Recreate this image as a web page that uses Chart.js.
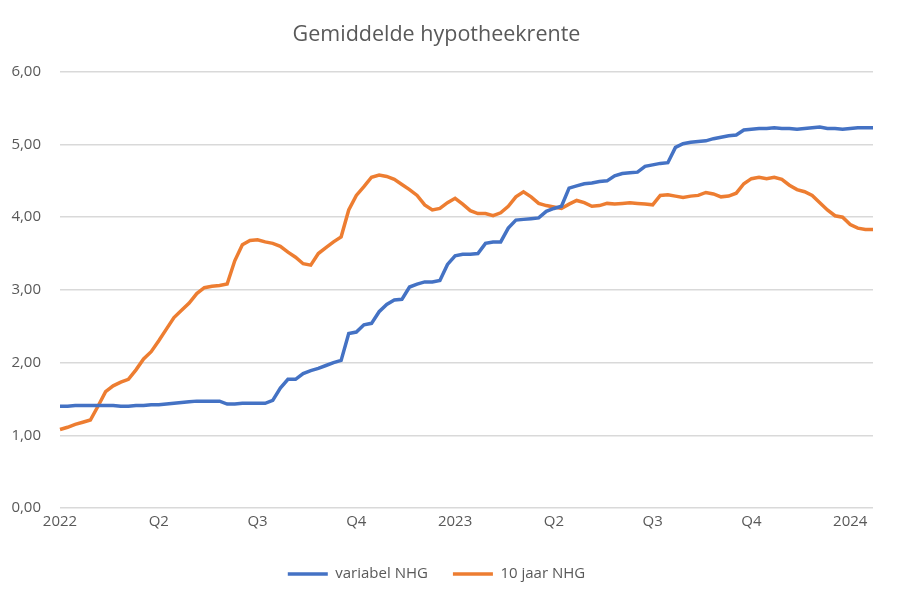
<!DOCTYPE html>
<html lang="en">
<head>
    <meta charset="UTF-8">
    <title>Gemiddelde hypotheekrente</title>
    <script src="https://cdn.jsdelivr.net/npm/chart.js"></script>
    <style>
        html, body {
            margin: 0;
            padding: 0;
            background: #fff;
        }
        .chart-box {
            width: 900px;
            height: 601px;
        }
    </style>
</head>
<body>
    <div class="chart-box">
        <canvas id="renteChart" width="900" height="601"></canvas>
    </div>
    <script>
        // Quarter tick labels (one every 13 weeks)
        const quarterLabels = ['2022', 'Q2', 'Q3', 'Q4', '2023', 'Q2', 'Q3', 'Q4', '2024'];
        const weeksPerQuarter = 13;

        // Weekly averages
        const variabelNHG = [
            1.40, 1.40, 1.41, 1.41, 1.41, 1.41, 1.41, 1.41, 1.40, 1.40,
            1.41, 1.41, 1.42, 1.42, 1.43, 1.44, 1.45, 1.46, 1.47, 1.47,
            1.47, 1.47, 1.43, 1.43, 1.44, 1.44, 1.44, 1.44, 1.48, 1.65,
            1.77, 1.77, 1.85, 1.89, 1.92, 1.96, 2.00, 2.03, 2.40, 2.42,
            2.52, 2.54, 2.70, 2.80, 2.86, 2.87, 3.04, 3.08, 3.11, 3.11,
            3.13, 3.35, 3.47, 3.49, 3.49, 3.50, 3.64, 3.66, 3.66, 3.85,
            3.96, 3.97, 3.98, 3.99, 4.08, 4.12, 4.15, 4.40, 4.43, 4.46,
            4.47, 4.49, 4.50, 4.57, 4.60, 4.61, 4.62, 4.70, 4.72, 4.74,
            4.75, 4.96, 5.01, 5.03, 5.04, 5.05, 5.08, 5.10, 5.12, 5.13,
            5.20, 5.21, 5.22, 5.22, 5.23, 5.22, 5.22, 5.21, 5.22, 5.23,
            5.24, 5.22, 5.22, 5.21, 5.22, 5.23, 5.23, 5.23
        ];
        const tienJaarNHG = [
            1.08, 1.11, 1.15, 1.18, 1.21, 1.40, 1.60, 1.68, 1.73, 1.77,
            1.90, 2.05, 2.15, 2.30, 2.46, 2.62, 2.72, 2.82, 2.95, 3.03,
            3.05, 3.06, 3.08, 3.40, 3.62, 3.68, 3.69, 3.66, 3.64, 3.60,
            3.52, 3.45, 3.36, 3.34, 3.50, 3.58, 3.66, 3.73, 4.10, 4.30,
            4.42, 4.55, 4.58, 4.56, 4.52, 4.45, 4.38, 4.30, 4.17, 4.10,
            4.12, 4.20, 4.26, 4.18, 4.09, 4.05, 4.05, 4.02, 4.06, 4.15,
            4.28, 4.35, 4.28, 4.19, 4.16, 4.14, 4.12, 4.18, 4.23, 4.20,
            4.15, 4.16, 4.19, 4.18, 4.19, 4.20, 4.19, 4.18, 4.17, 4.30,
            4.31, 4.29, 4.27, 4.29, 4.30, 4.34, 4.32, 4.28, 4.29, 4.33,
            4.46, 4.53, 4.55, 4.53, 4.55, 4.52, 4.44, 4.38, 4.35, 4.30,
            4.20, 4.10, 4.02, 4.00, 3.90, 3.85, 3.83, 3.83
        ];
        const weeks = variabelNHG.map((_, i) => i);

        const textColor = '#595959';
        const fontFamily = '"Open Sans", "Noto Sans", sans-serif';

        const ctx = document.getElementById('renteChart').getContext('2d');
        const renteChart = new Chart(ctx, {
            type: 'line',
            data: {
                labels: weeks,
                datasets: [
                    {
                        label: 'variabel NHG',
                        data: variabelNHG,
                        borderColor: '#4472C4',
                        backgroundColor: '#4472C4',
                        borderWidth: 3.5,
                        pointRadius: 0,
                        tension: 0
                    },
                    {
                        label: '10 jaar NHG',
                        data: tienJaarNHG,
                        borderColor: '#ED7D31',
                        backgroundColor: '#ED7D31',
                        borderWidth: 3.5,
                        pointRadius: 0,
                        tension: 0
                    }
                ]
            },
            options: {
                responsive: false,
                animation: false,
                layout: {
                    padding: { left: 0, right: 27, top: 14, bottom: 9.5 }
                },
                plugins: {
                    title: {
                        display: true,
                        text: 'Gemiddelde hypotheekrente',
                        color: textColor,
                        font: { family: fontFamily, size: 21.5, weight: 'normal' },
                        padding: { top: 8, bottom: 24 }
                    },
                    legend: {
                        position: 'bottom',
                        labels: {
                            usePointStyle: true,
                            pointStyle: 'line',
                            pointStyleWidth: 40,
                            color: textColor,
                            font: { family: fontFamily, size: 15 },
                            padding: 25
                        }
                    },
                    tooltip: { enabled: false }
                },
                scales: {
                    x: {
                        afterFit: function (scale) { scale.height = 33.5; },
                        grid: { display: false, drawTicks: false },
                        border: { display: false },
                        ticks: {
                            autoSkip: false,
                            maxRotation: 0,
                            color: textColor,
                            font: { family: fontFamily, size: 15 },
                            padding: 5,
                            callback: function (value, index) {
                                return index % weeksPerQuarter === 0 ? quarterLabels[index / weeksPerQuarter] : null;
                            }
                        }
                    },
                    y: {
                        min: 0,
                        max: 6,
                        afterFit: function (scale) { scale.width = 60; },
                        grid: { color: '#D9D9D9', lineWidth: 1.5, drawTicks: false },
                        border: { display: false },
                        ticks: {
                            stepSize: 1,
                            color: textColor,
                            padding: 19,
                            font: { family: fontFamily, size: 15 },
                            callback: function (value) {
                                return value.toFixed(2).replace('.', ',');
                            }
                        }
                    }
                }
            }
        });
    </script>
</body>
</html>
